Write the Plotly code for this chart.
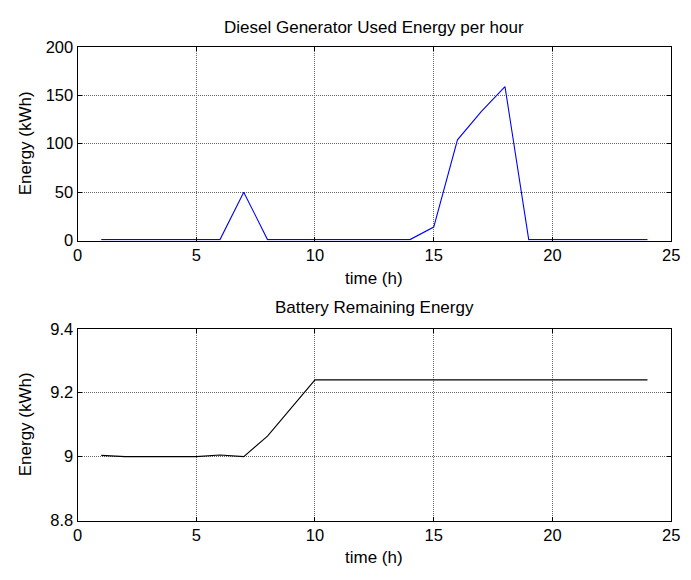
import plotly.graph_objects as go

hours = list(range(1, 25))
diesel_energy = [1, 1, 1, 1, 1, 1, 50, 1, 1, 1, 1, 1, 1, 1, 14, 104, 133, 159, 1, 1, 1, 1, 1, 1]
battery_energy = [9.004, 9.0, 9.0, 9.0, 9.0, 9.005, 9.0, 9.064, 9.152, 9.24,
                  9.24, 9.24, 9.24, 9.24, 9.24, 9.24, 9.24, 9.24, 9.24, 9.24,
                  9.24, 9.24, 9.24, 9.24]

x_ticks = [0, 5, 10, 15, 20, 25]
top_y_ticks = [0, 50, 100, 150, 200]
bot_y_ticks = [8.8, 9.0, 9.2, 9.4]
bot_y_text = ["8.8", "9", "9.2", "9.4"]

FONT = "Liberation Sans, Arial, sans-serif"
W, H = 691, 580
L, R = 74, 680

fig = go.Figure()
fig.add_trace(go.Scatter(x=hours, y=diesel_energy, mode="lines",
                         line=dict(color="#0000ff", width=1.1), xaxis="x", yaxis="y",
                         showlegend=False))
fig.add_trace(go.Scatter(x=hours, y=battery_energy, mode="lines",
                         line=dict(color="#000000", width=1.1), xaxis="x2", yaxis="y2",
                         showlegend=False))

xdom = [L / W, R / W]
axis_common = dict(showline=True, linecolor="black", linewidth=1, mirror="ticks",
                   ticks="inside", ticklen=4, tickcolor="black",
                   showgrid=True, gridcolor="#666666", griddash="1px,1px", gridwidth=1,
                   zeroline=False, tickfont=dict(family=FONT, size=16.5, color="black"))

fig.update_layout(
    width=W, height=H,
    margin=dict(l=0, r=0, t=0, b=0),
    paper_bgcolor="white", plot_bgcolor="white",
    xaxis=dict(domain=xdom, anchor="y", range=[0, 25], tickvals=x_ticks, **axis_common),
    yaxis=dict(domain=[1 - 239 / H, 1 - 39 / H], anchor="x", range=[0, 200],
               tickvals=top_y_ticks, **axis_common),
    xaxis2=dict(domain=xdom, anchor="y2", range=[0, 25], tickvals=x_ticks, **axis_common),
    yaxis2=dict(domain=[1 - 528 / H, 1 - 330 / H], anchor="x2", range=[8.8, 9.4],
                tickvals=bot_y_ticks, ticktext=bot_y_text, **axis_common),
)

cx = (L + R) / 2 / W
anns = [
    dict(text="Diesel Generator Used Energy per hour", x=cx, y=1 - 19 / H),
    dict(text="time (h)", x=cx, y=1 - 278 / H),
    dict(text="Battery Remaining Energy", x=cx, y=1 - 308 / H),
    dict(text="time (h)", x=cx, y=1 - 566 / H),
    dict(text="Energy (kWh)", x=21 / W, y=1 - 139 / H, textangle=-90),
    dict(text="Energy (kWh)", x=21 / W, y=1 - 429 / H, textangle=-90),
]
for a in anns:
    fig.add_annotation(xref="paper", yref="paper", showarrow=False,
                       xanchor="center", yanchor="middle",
                       font=dict(family=FONT, size=17, color="black"), **a)

fig.write_html("out.html")
